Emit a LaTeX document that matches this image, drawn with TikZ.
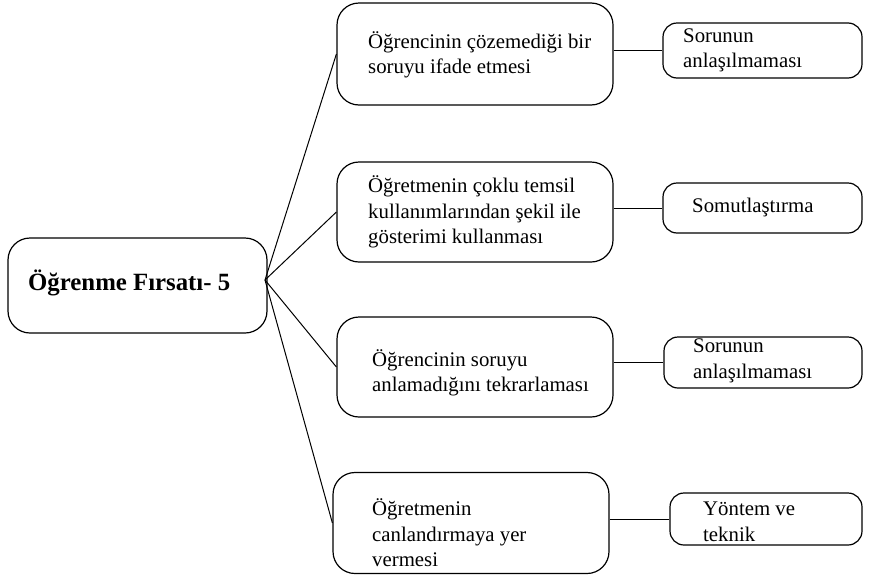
\documentclass[tikz,border=0pt]{standalone}
\usepackage{fontspec}
\setmainfont{Liberation Serif}
\begin{document}
\begin{tikzpicture}[x=1pt,y=-1pt,
  box/.style={draw, line width=1.2pt, rounded corners=22pt, inner sep=0pt},
  smallbox/.style={draw, line width=1.2pt, rounded corners=14pt, inner sep=0pt},
  lbl/.style={anchor=west, align=left, inner sep=0pt, font=\fontsize{20.8}{25.5}\selectfont},
  link/.style={line width=1pt}]
\useasboundingbox (0,0) rectangle (870,576);

% central node
\node[box, minimum width=259pt, minimum height=95pt] (main) at (137.5,285.5) {};
\node[anchor=west, inner sep=0pt, font=\fontsize{24.8}{28}\selectfont\bfseries] (mainlbl) at (28,283) {Öğrenme Fırsatı- 5};
\coordinate (hub) at (265,280);

% middle column
\node[box, minimum width=276pt, minimum height=102pt] (b1) at (475,54) {};
\node[box, minimum width=276pt, minimum height=100pt] (b2) at (475,212) {};
\node[box, minimum width=276pt, minimum height=100pt] (b3) at (475,367) {};
\node[box, minimum width=276pt, minimum height=101pt] (b4) at (471,523) {};

\node[lbl] (t1) at (368,55) {Öğrencinin çözemediği bir\\soruyu ifade etmesi};
\node[lbl] (t2) at (368,212) {Öğretmenin çoklu temsil\\kullanımlarından şekil ile\\gösterimi kullanması};
\node[lbl] (t3) at (372,373) {Öğrencinin soruyu\\anlamadığını tekrarlaması};
\node[lbl] (t4) at (372,533) {Öğretmenin\\canlandırmaya yer\\vermesi};

% right column
\node[smallbox, minimum width=199pt, minimum height=55pt] (r1) at (762.5,50.5) {};
\node[smallbox, minimum width=199pt, minimum height=50pt] (r2) at (762.5,208) {};
\node[smallbox, minimum width=198pt, minimum height=51pt] (r3) at (763,362.5) {};
\node[smallbox, minimum width=192pt, minimum height=52pt] (r4) at (766,519) {};

\node[lbl] (s1) at (683,50.5) {Sorunun\\anlaşılmaması};
\node[lbl] (s2) at (692,207) {Somutlaştırma};
\node[lbl] (s3) at (693,361) {Sorunun\\anlaşılmaması};
\node[lbl] (s4) at (703,522) {Yöntem ve\\teknik};

% connectors
\draw[link] (hub) -- (b1.west);
\draw[link] (hub) -- (b2.west);
\draw[link] (hub) -- (b3.west);
\draw[link] (hub) -- (b4.west);

\draw[link] (r1.west -| b1.east) -- (r1.west);
\draw[link] (r2.west -| b2.east) -- (r2.west);
\draw[link] (r3.west -| b3.east) -- (r3.west);
\draw[link] (r4.west -| b4.east) -- (r4.west);
\end{tikzpicture}
\end{document}
